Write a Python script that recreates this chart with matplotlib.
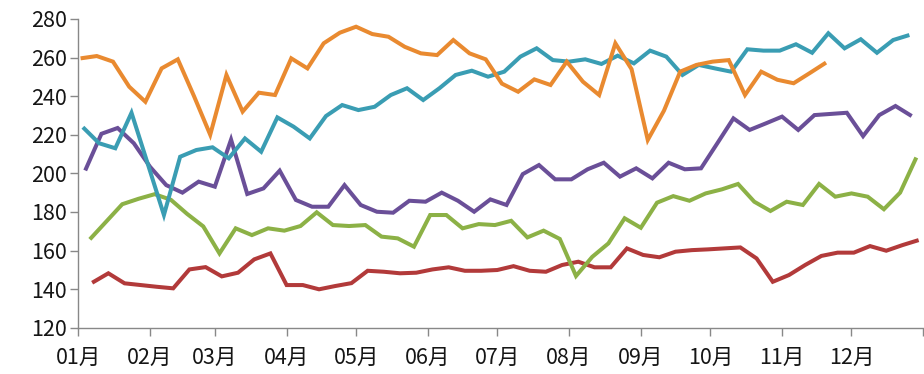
import matplotlib
matplotlib.use('Agg')
import matplotlib.pyplot as plt
import pandas as pd

plt.rcParams['font.family'] = ['Noto Sans CJK SC', 'DejaVu Sans']

# ---------------- data ----------------
month_labels = ['01月', '02月', '03月', '04月', '05月', '06月',
                '07月', '08月', '09月', '10月', '11月', '12月']
y_ticks = [120, 140, 160, 180, 200, 220, 240, 260, 280]

orange_start = '2015-01-02'
orange_vals = [259.6, 260.8, 257.9, 244.9, 237.1, 254.4, 259.1, 240.0, 220.0, 251.0,
               232.0, 241.8, 240.6, 259.6, 254.4, 267.4, 272.9, 276.0, 272.2, 270.8,
               265.6, 262.2, 261.3, 269.1, 262.2, 259.1, 246.5, 242.3, 248.7, 245.8,
               257.9, 247.5, 240.6, 267.4, 254.0, 217.3, 232.5, 252.7, 256.2, 257.9,
               258.7, 240.6, 252.7, 248.5, 246.7, 252.0, 257.4]

teal_start = '2015-01-03'
teal_vals = [223.9, 215.6, 213.0, 231.4, 205.0, 178.4, 208.6, 212.1, 213.5, 207.8,
             218.1, 211.2, 229.0, 224.2, 218.1, 229.7, 235.4, 232.8, 234.5, 240.6,
             244.1, 238.0, 244.1, 251.0, 253.2, 250.1, 252.7, 260.5, 264.8, 258.7,
             257.9, 259.1, 256.7, 261.0, 257.0, 263.6, 260.5, 251.0, 256.2, 254.4,
             252.7, 264.3, 263.6, 263.6, 266.9, 262.5, 272.6, 264.8, 269.5, 262.5,
             269.1, 271.7]

purple_start = '2015-01-04'
purple_vals = [201.5, 220.5, 223.5, 215.6, 203.4, 193.9, 190.0, 195.7, 193.1, 217.5,
               189.3, 192.2, 201.4, 186.2, 182.7, 182.7, 193.9, 183.6, 180.1, 179.6,
               185.8, 185.3, 190.0, 185.8, 180.1, 186.5, 183.6, 199.6, 204.3, 196.9,
               196.9, 202.1, 205.5, 198.3, 202.6, 197.4, 205.5, 202.1, 202.6, 215.5,
               228.5, 222.5, 225.9, 229.4, 222.5, 230.2, 230.8, 231.4, 219.3, 230.2,
               234.9, 229.7]

green_start = '2015-01-06'
green_vals = [165.8, 174.9, 184.0, 186.8, 189.2, 186.3, 179.0, 172.5, 158.5, 171.5,
              168.0, 171.5, 170.3, 172.7, 179.8, 173.2, 172.7, 173.2, 167.2, 166.3,
              162.0, 178.4, 178.4, 171.5, 173.7, 173.2, 175.4, 166.8, 170.3, 166.0,
              146.8, 156.7, 163.7, 176.7, 171.8, 184.8, 188.2, 185.8, 189.6, 191.7,
              194.5, 185.3, 180.5, 185.3, 183.6, 194.5, 187.9, 189.6, 187.9, 181.4,
              190.0, 208.2]

red_start = '2015-01-07'
red_vals = [143.3, 148.2, 143.0, 142.1, 141.2, 140.4, 150.2, 151.4, 146.6, 148.5,
            155.4, 158.5, 142.1, 142.1, 139.9, 141.6, 143.1, 149.5, 149.0, 148.2,
            148.5, 150.2, 151.3, 149.5, 149.5, 149.9, 151.9, 149.5, 149.0, 152.5,
            154.2, 151.3, 151.3, 161.1, 157.7, 156.5, 159.4, 160.2, 160.6, 161.1,
            161.6, 155.9, 143.8, 147.3, 152.5, 157.2, 158.9, 158.9, 162.3, 159.9,
            162.8, 165.4]

# ---------------- plot ----------------
fig = plt.figure(figsize=(9.24, 3.74), dpi=100)
ax = fig.add_axes([0.0847, 0.1238, 0.9145, 0.8254])

series = [
    (red_start, red_vals, '#B23A3A'),
    (green_start, green_vals, '#8CB146'),
    (purple_start, purple_vals, '#6A4F98'),
    (teal_start, teal_vals, '#3A9DB3'),
    (orange_start, orange_vals, '#E98A30'),
]
for start, vals, color in series:
    dates = pd.date_range(start, periods=len(vals), freq='7D')
    ax.plot(dates, vals, color=color, linewidth=2.9, solid_joinstyle='miter',
            solid_capstyle='butt', clip_on=False)

month_starts = pd.date_range('2015-01-01', '2016-01-01', freq='MS')
ax.set_xlim(month_starts[0], month_starts[-1])
ax.set_xticks(month_starts)
ax.set_xticklabels(month_labels + [''])
ax.set_ylim(120, 280)
ax.set_yticks(y_ticks)
ax.set_yticklabels([str(v) for v in y_ticks])

for side in ['top', 'right']:
    ax.spines[side].set_visible(False)
for side in ['left', 'bottom']:
    ax.spines[side].set_color('#888888')
    ax.spines[side].set_linewidth(1.0)
ax.tick_params(axis='both', colors='#888888', length=6, width=1.0,
               direction='out', labelsize=15.5, labelcolor='#151515')
ax.tick_params(axis='x', pad=8)
ax.tick_params(axis='y', pad=2)

fig.savefig('out.png', dpi=100)
